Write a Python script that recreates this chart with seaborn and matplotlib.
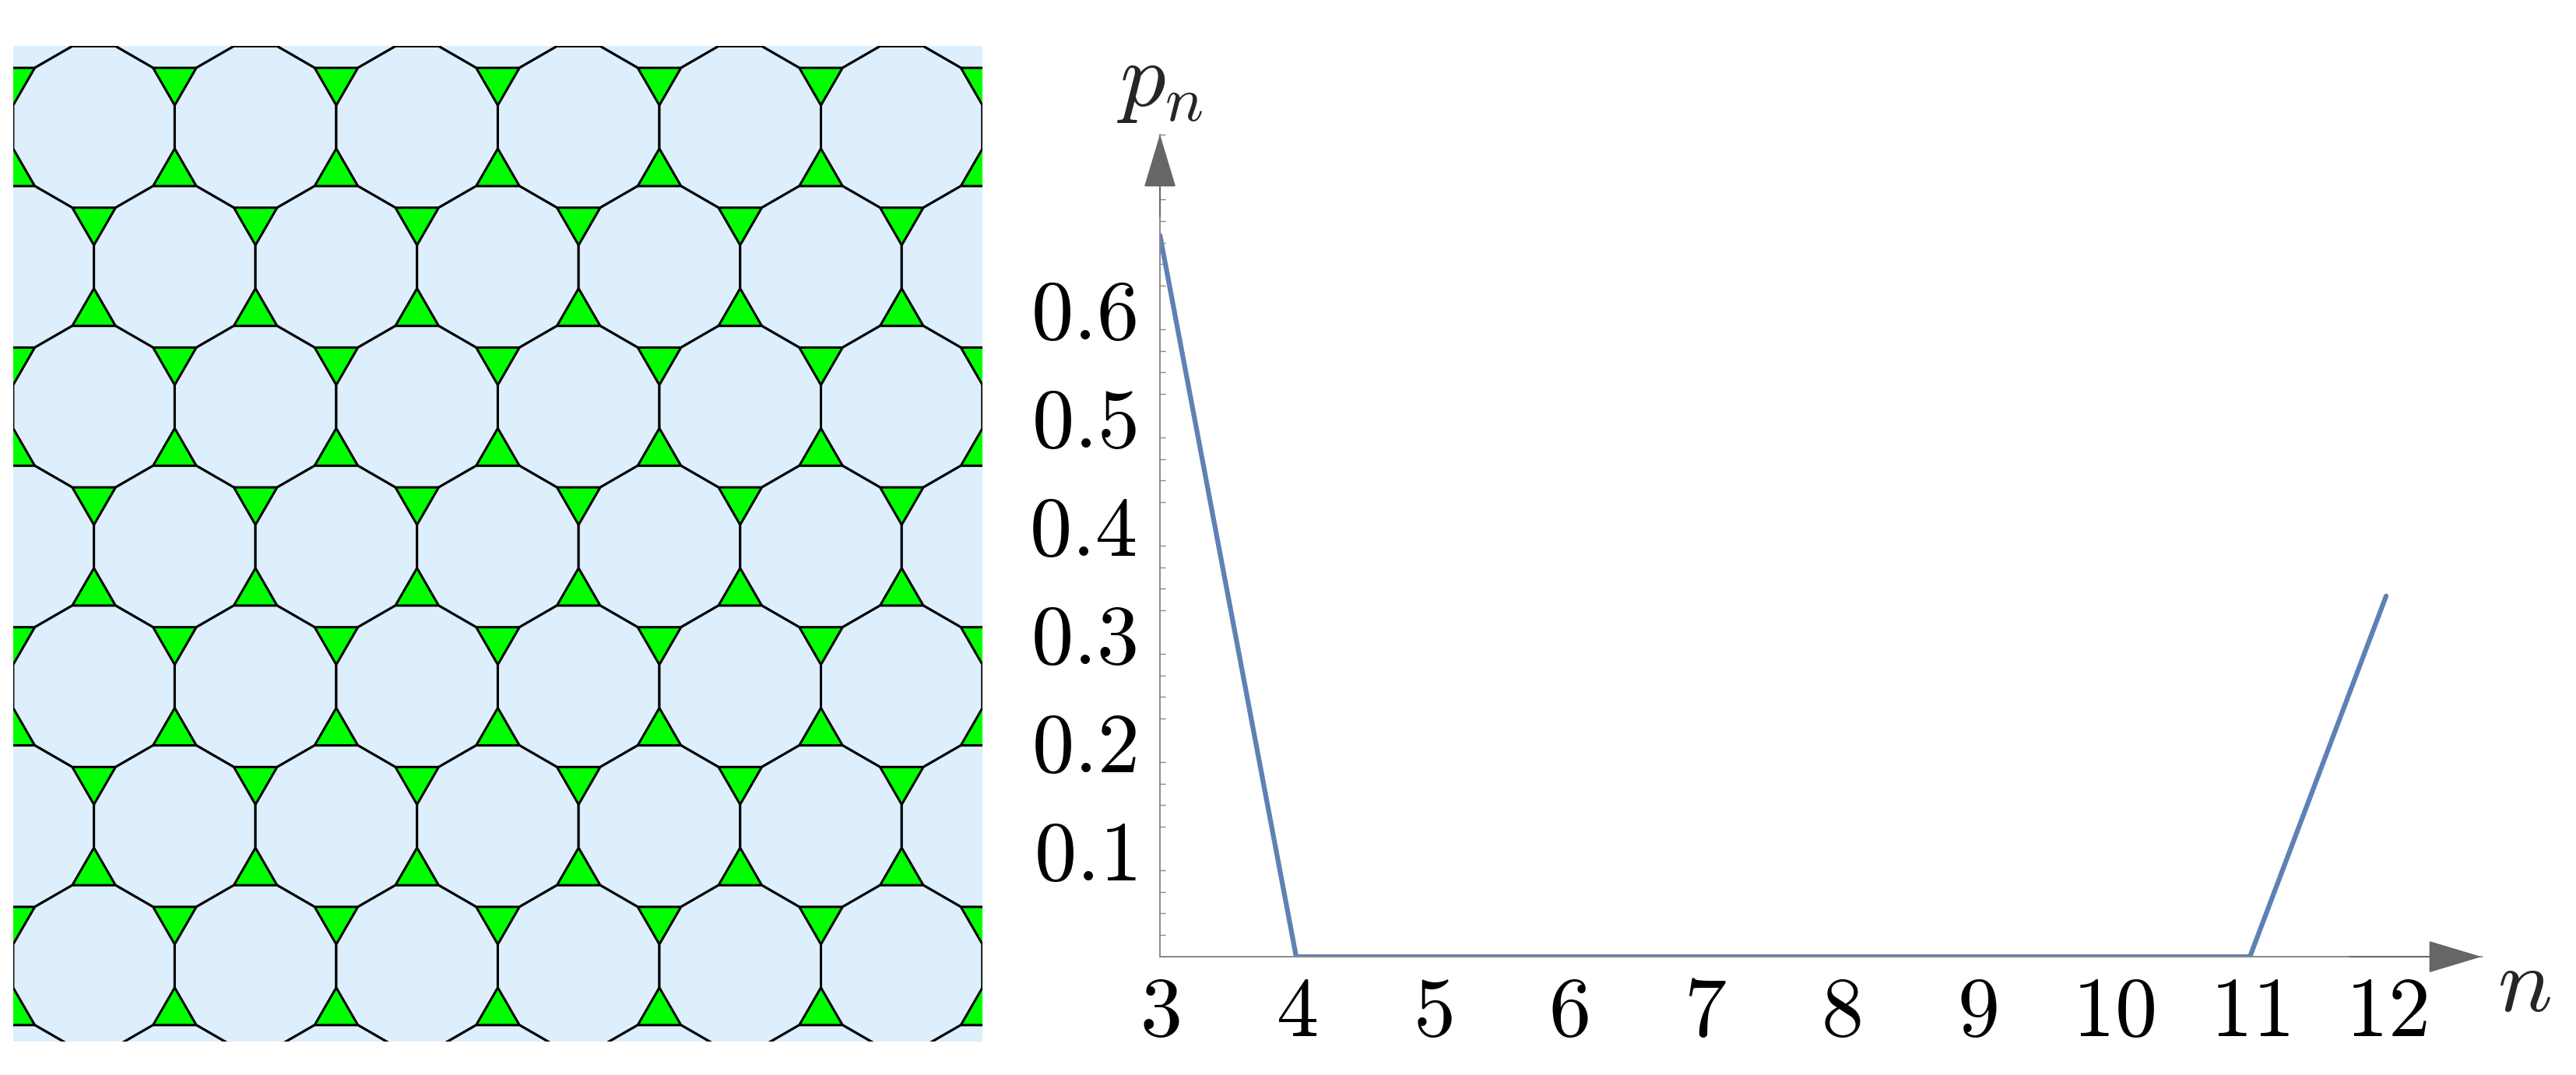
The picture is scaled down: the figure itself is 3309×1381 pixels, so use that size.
import numpy as np
import pandas as pd
import matplotlib
matplotlib.use("Agg")
import matplotlib.pyplot as plt
from matplotlib.patches import Polygon
from matplotlib.ticker import MultipleLocator
import seaborn as sns

# p_n data
n_values = [3, 4, 5, 6, 7, 8, 9, 10, 11, 12]
p_values = [2 / 3, 0, 0, 0, 0, 0, 0, 0, 0, 1 / 3]
x_ticks = [3, 4, 5, 6, 7, 8, 9, 10, 11, 12]
y_ticks = [0.1, 0.2, 0.3, 0.4, 0.5, 0.6]

sns.set_style("white")
plt.rcParams["mathtext.fontset"] = "cm"
plt.rcParams["font.family"] = ["DejaVu Serif"]

fig = plt.figure(figsize=(33.09, 13.81), dpi=100)

# --- left: truncated hexagonal tiling (3.12.12) ---
axl = fig.add_axes([0.0051, 0.031, 0.3763, 0.926])
axl.set_facecolor("#00FF00")
apothem = 0.5
R = apothem / np.cos(np.pi / 12)
ang = np.deg2rad(15 + 30 * np.arange(12))
for row in range(-1, 9):
    cy = -row * np.sqrt(3) / 2
    off = 0.5 * (row % 2)
    for col in range(-1, 8):
        cx = col + off
        verts = np.column_stack([cx + R * np.cos(ang), cy + R * np.sin(ang)])
        axl.add_patch(Polygon(verts, closed=True, facecolor="#DDEEFC",
                              edgecolor="black", linewidth=2.2))
axl.set_xlim(-0.5, 5.5)
axl.set_ylim(-5.665, 0.5)
axl.set_aspect("auto")
axl.set_xticks([])
axl.set_yticks([])
for s in axl.spines.values():
    s.set_visible(False)

# --- right: p_n line plot ---
ax = fig.add_axes([0.4503, 0.110, 0.513, 0.765])
df = pd.DataFrame({"n": n_values, "p": p_values})
sns.lineplot(data=df, x="n", y="p", ax=ax, color="#5E81B5", linewidth=4.5)
ax.set_xlim(3, 12.7)
ax.set_ylim(0, 0.76)
for s in ["top", "right"]:
    ax.spines[s].set_visible(False)
for s in ["left", "bottom"]:
    ax.spines[s].set_color("#888888")
    ax.spines[s].set_linewidth(1.4)
ax.set_xticks(x_ticks)
ax.set_xticklabels([f"${t}$" for t in x_ticks])
ax.set_yticks(y_ticks)
ax.set_yticklabels([f"${t:.1f}$" for t in y_ticks])
ax.yaxis.set_minor_locator(MultipleLocator(0.02))
ax.tick_params(axis="both", which="major", direction="in", length=10,
               width=1.3, color="#888888", labelsize=78, labelcolor="black")
ax.tick_params(axis="y", which="minor", direction="in", length=5,
               width=1, color="#888888", left=True)
ax.tick_params(axis="x", pad=14)
ax.tick_params(axis="y", pad=22)
ax.set_xlabel("")
ax.set_ylabel("")
# axis arrows
arrow = dict(arrowstyle="-|>,head_length=1.5,head_width=0.45",
             mutation_scale=30, color="#666666", lw=1.4, shrinkA=0, shrinkB=0)
ax.annotate("", xy=(1.0, 0), xytext=(0.9, 0), xycoords="axes fraction",
            arrowprops=arrow)
ax.annotate("", xy=(0, 1.0), xytext=(0, 0.9), xycoords="axes fraction",
            arrowprops=arrow)
fig.text(0.4503, 0.925, "$p_n$", fontsize=84, ha="center", va="center")
fig.text(0.980, 0.083, "$n$", fontsize=84, ha="center", va="center")

fig.savefig("out.png", dpi=100)
